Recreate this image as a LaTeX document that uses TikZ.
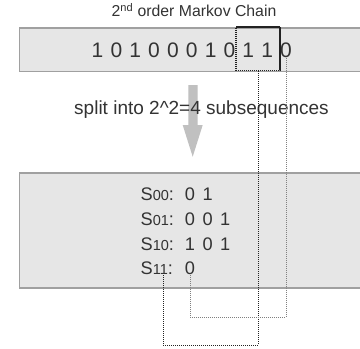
\documentclass[tikz,border=0pt]{standalone}
\usepackage{fontspec}
\setmainfont{Liberation Sans}
\definecolor{boxfill}{HTML}{E6E6E6}
\definecolor{boxline}{HTML}{A0A0A0}
\definecolor{arrowgray}{HTML}{C0C0C0}
\definecolor{txt}{HTML}{333333}
\definecolor{linedark}{HTML}{222222}
\definecolor{linegray}{HTML}{808080}
\newcommand{\fsz}[1]{\fontsize{#1}{#1}\selectfont}
\tikzset{
  panel/.style={draw=boxline, fill=boxfill, line width=1.2pt, anchor=north west, inner sep=0pt, minimum width=360pt},
  seqdigit/.style={anchor=base, inner sep=0pt, text=txt, font=\fsz{21}},
  subdigit/.style={anchor=base, inner sep=0pt, text=txt, font=\fsz{18.2}},
  sublabel/.style={anchor=base west, inner sep=0pt, text=txt, font=\fsz{18.2}},
  pairbox/.style={draw=linedark, line width=1.3pt, dash pattern=on 1.2pt off 0.8pt, minimum width=44pt, minimum height=43.5pt, inner sep=0pt},
  connA/.style={draw=linedark, line width=0.8pt, dash pattern=on 1pt off 1pt},
  connB/.style={draw=linegray, line width=0.8pt, dash pattern=on 1pt off 1pt}
}
\begin{document}
\begin{tikzpicture}[x=1pt,y=-1pt]
\useasboundingbox (0,0) rectangle (360,349);
\fill[white] (0,0) rectangle (360,349);
% title
\node[anchor=base, inner sep=0pt, text=txt, font=\fsz{15.8}] (title) at (194,16.7) {2\textsuperscript{nd} order Markov Chain};
% top panel
\node[panel, minimum height=43.5pt] (seqbox) at (18.9,27.3) {};
\foreach \d [count=\i from 0] in {1,0,1,0,0,0,1,0,1,1,0}
  \node[seqdigit] (d\i) at ({97.5+18.85*\i},57.8) {\d};
\node[pairbox] (pair) at (258,48.8) {};
% arrow and caption
\fill[arrowgray] (188.3,85) -- (197.7,85) -- (197.7,125) -- (202.7,125) -- (192.7,156.7) -- (182.7,125) -- (188.3,125) -- cycle;
\node[anchor=base, inner sep=0pt, text=txt, font=\fsz{19}] (split) at (201.5,114) {split into 2\textasciicircum 2=4 subsequences};
% bottom panel
\node[panel, minimum height=115pt] (subbox) at (18.9,172.3) {};
\node[sublabel] (l00) at (140.5,200) {S{\fsz{14.5}00}:};
\node[sublabel] (l01) at (140.5,225) {S{\fsz{14.5}01}:};
\node[sublabel] (l10) at (140.5,250) {S{\fsz{14.5}10}:};
\node[sublabel] (l11) at (140.5,274.5) {S{\fsz{14.5}11}:};
\node[subdigit] (a1) at (190,200) {0};
\node[subdigit] (a2) at (207.6,200) {1};
\node[subdigit] (b1) at (190,225) {0};
\node[subdigit] (b2) at (207.6,225) {0};
\node[subdigit] (b3) at (225.2,225) {1};
\node[subdigit] (c1) at (190,250) {1};
\node[subdigit] (c2) at (207.6,250) {0};
\node[subdigit] (c3) at (225.2,250) {1};
\node[subdigit] (z11) at (190,274.5) {0};
% connectors
\coordinate (sub11) at (163,274.5);
\coordinate (turnA) at (163,345);
\coordinate (turnB) at (190,317);
\draw[connA] (pair.south) |- (turnA) -- (sub11);
\draw[connB] (d10.base) |- (turnB) -- (z11.base);
\end{tikzpicture}
\end{document}
